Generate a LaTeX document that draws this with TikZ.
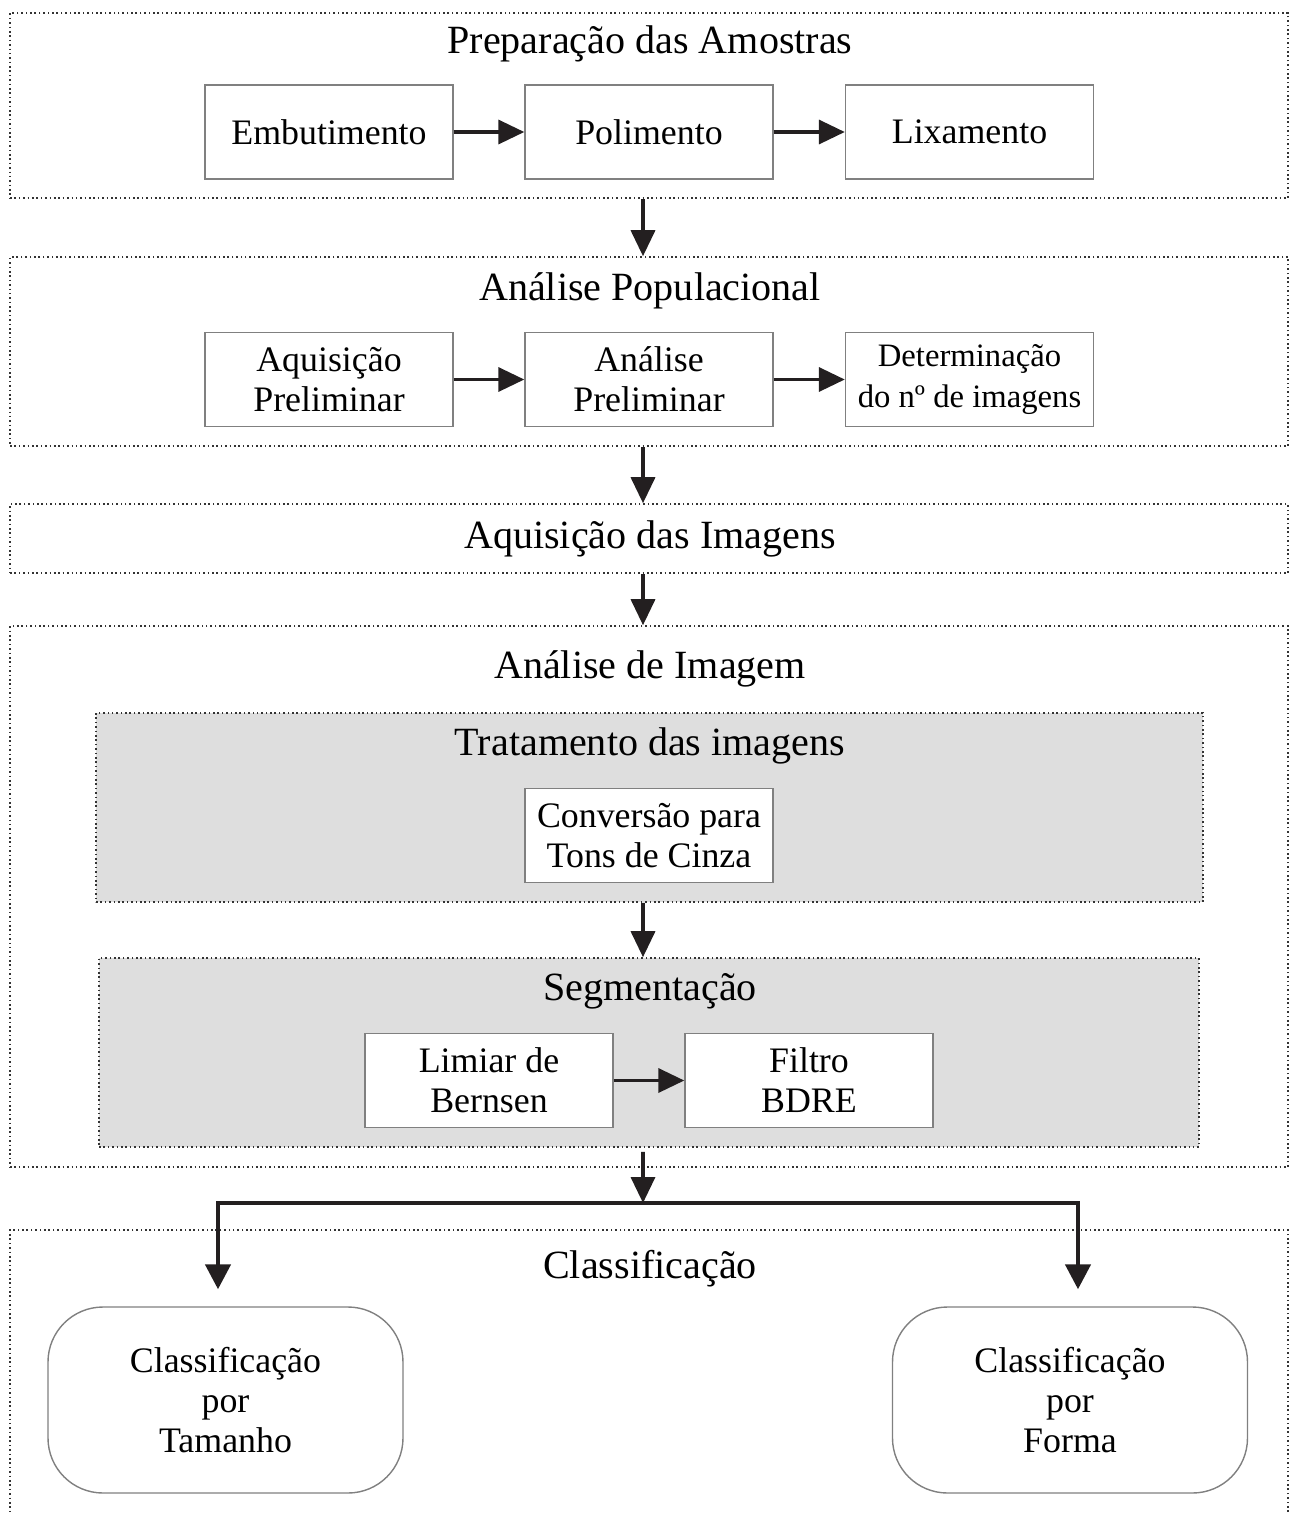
\documentclass[tikz,border=0pt]{standalone}
\usepackage{fontspec}
\setmainfont{Liberation Serif}
\usetikzlibrary{positioning,calc,arrows.meta}

\definecolor{grayfill}{HTML}{DEDEDE}
\definecolor{inkline}{HTML}{231F20}
\newcommand{\titlefont}{\fontsize{11.4}{13}\selectfont}
\newcommand{\boxfont}{\fontsize{10.2}{11.4}\selectfont}
\newcommand{\smallboxfont}{\fontsize{9.3}{11.4}\selectfont}

\tikzset{
  frame/.style={draw=black!80,dash pattern=on 0.45pt off 0.8pt,line width=0.45pt,inner sep=0},
  grayframe/.style={frame,fill=grayfill},
  stepbox/.style={draw=black!50,line width=0.4pt,fill=white,minimum width=2.48cm,minimum height=0.94cm,inner sep=0,align=center,font=\boxfont},
  roundbox/.style={stepbox,rounded corners=0.55cm,minimum width=3.55cm,minimum height=1.86cm},
  title/.style={anchor=base,font=\titlefont},
  arr/.style={-{Triangle[length=0.26cm,width=0.24cm]},line width=1.0pt,draw=inkline},
  branch/.style={arr,line width=1.3pt,-{Triangle[length=0.25cm,width=0.25cm]}}
}

\begin{document}
\begin{tikzpicture}
    \useasboundingbox (0,0) rectangle (12.9,-15.15);

    % etapas (molduras pontilhadas)
    \node[frame,minimum width=12.78cm,minimum height=1.85cm] (prep) at (6.49,-1.055) {};
    \node[frame,minimum width=12.78cm,minimum height=1.89cm] (pop) at (6.49,-3.515) {};
    \node[frame,minimum width=12.78cm,minimum height=0.69cm] (aquis) at (6.49,-5.385) {};
    \node[frame,minimum width=12.78cm,minimum height=5.41cm] (analise) at (6.49,-8.965) {};
    \node[frame,minimum width=12.78cm,minimum height=3.0cm] (classif) at (6.49,-13.80) {};

    \node[grayframe,minimum width=11.07cm,minimum height=1.89cm] (trat) at (6.495,-8.075) {};
    \node[grayframe,minimum width=11.0cm,minimum height=1.89cm] (segm) at (6.49,-10.525) {};

    % titulos
    \node[title] (preptit) at (6.5,-0.53) {Preparação das Amostras};
    \node[title] (poptit) at (6.5,-3.00) {Análise Populacional};
    \node[title] (aquistit) at (6.5,-5.48) {Aquisição das Imagens};
    \node[title] (analisetit) at (6.5,-6.78) {Análise de Imagem};
    \node[title] (trattit) at (6.5,-7.55) {Tratamento das imagens};
    \node[title] (segmtit) at (6.5,-10.0) {Segmentação};
    \node[title] (classiftit) at (6.5,-12.78) {Classificação};

    % caixas
    \node[stepbox] (emb) at (3.29,-1.32) {Embutimento};
    \node[stepbox] (pol) at (6.49,-1.32) {Polimento};
    \node[stepbox] (lix) at (9.695,-1.32) {Lixamento};

    \node[stepbox] (aqp) at (3.29,-3.795) {Aquisição\\Preliminar};
    \node[stepbox] (anp) at (6.49,-3.795) {Análise\\Preliminar};
    \node[stepbox,font=\smallboxfont] (det) at (9.695,-3.795) {Determinação\\do nº de imagens};

    \node[stepbox] (conv) at (6.49,-8.355) {Conversão para\\Tons de Cinza};

    \node[stepbox] (lim) at (4.89,-10.805) {Limiar de\\Bernsen};
    \node[stepbox] (fil) at (8.09,-10.805) {Filtro\\BDRE};

    \node[roundbox] (tam) at (2.255,-14.0) {Classificação\\por\\Tamanho};
    \node[roundbox] (forma) at (10.70,-14.0) {Classificação\\por\\Forma};

    % setas
    \draw[arr] (emb) -- (pol);
    \draw[arr] (pol) -- (lix);
    \draw[arr] (aqp) -- (anp);
    \draw[arr] (anp) -- (det);
    \draw[arr] (lim) -- (fil);

    \draw[arr] ([xshift=-0.06cm]prep.south) -- ([xshift=-0.06cm]pop.north);
    \draw[arr] ([xshift=-0.06cm]pop.south) -- ([xshift=-0.06cm]aquis.north);
    \draw[arr] ([xshift=-0.06cm]aquis.south) -- ([xshift=-0.06cm]analise.north);
    \draw[arr] ([xshift=-0.065cm]trat.south) -- ([xshift=-0.06cm]segm.north);

    \coordinate (split) at (6.43,-12.03);
    \draw[arr,shorten <=0.04cm] ([xshift=-0.06cm]segm.south) -- (split);
    \draw[branch] (split) -| ([xshift=-0.075cm,yshift=0.17cm]tam.north);
    \draw[branch] (split) -| ([xshift=0.08cm,yshift=0.17cm]forma.north);
\end{tikzpicture}
\end{document}
